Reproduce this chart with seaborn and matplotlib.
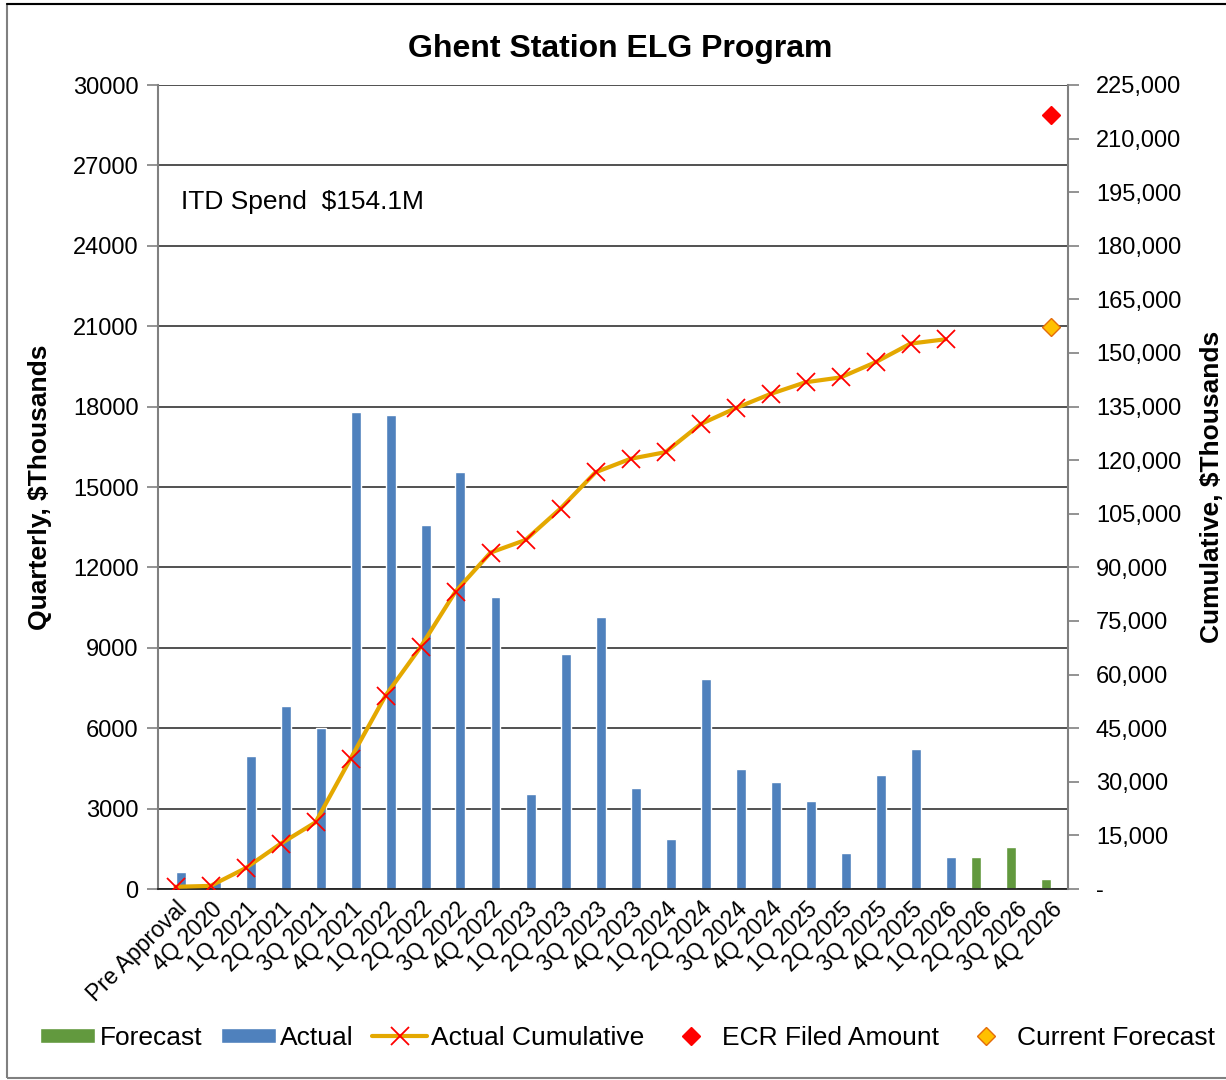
import matplotlib
matplotlib.use("Agg")
import matplotlib.pyplot as plt
from matplotlib.patches import Patch, Rectangle
from matplotlib.lines import Line2D
from matplotlib.ticker import FuncFormatter, FixedLocator
import numpy as np
import pandas as pd
import seaborn as sns

# -------------chart data-------------
quarters = ['Pre Approval', '4Q 2020',
            '1Q 2021', '2Q 2021', '3Q 2021', '4Q 2021',
            '1Q 2022', '2Q 2022', '3Q 2022', '4Q 2022',
            '1Q 2023', '2Q 2023', '3Q 2023', '4Q 2023',
            '1Q 2024', '2Q 2024', '3Q 2024', '4Q 2024',
            '1Q 2025', '2Q 2025', '3Q 2025', '4Q 2025',
            '1Q 2026', '2Q 2026', '3Q 2026', '4Q 2026']

actual_quarters = quarters[:23]
actual_values = [620, 250, 4950, 6820, 6010, 17780, 17680, 13570, 15560, 10900,
                 3540, 8780, 10150, 3780, 1860, 7830, 4470, 3980, 3280, 1350,
                 4250, 5220, 1210]

forecast_quarters = ['2Q 2026', '3Q 2026', '4Q 2026']
forecast_values = [1210, 1580, 360]

cumulative_values = [620, 870, 5820, 12640, 18650, 36430, 54110, 67680, 83240, 94140,
                     97680, 106460, 116610, 120390, 122250, 130080, 134550, 138530,
                     141810, 143160, 147410, 152630, 153840]

ecr_filed_amount = 216500
current_forecast = 157300
target_quarter = '4Q 2026'

left_ticks = list(range(0, 30001, 3000))
right_ticks = list(range(0, 225001, 15000))

# -------------colours-------------
c_actual = '#4F81BD'
c_forecast = '#62993E'
c_line = '#E4A800'

# -------------plot-------------
sns.set_style("white")
plt.rcParams['font.family'] = ['Liberation Sans', 'DejaVu Sans']
plt.rcParams['text.color'] = 'black'
plt.rcParams['axes.labelcolor'] = 'black'

fig = plt.figure(figsize=(12.26, 10.8), dpi=100)
ax = fig.add_axes([158/1226, 1-889/1080, 910/1226, 804/1080])

bars = pd.DataFrame({
    'quarter': actual_quarters + forecast_quarters,
    'value': actual_values + forecast_values,
    'series': ['Actual']*len(actual_quarters) + ['Forecast']*len(forecast_quarters),
})
sns.barplot(data=bars, x='quarter', y='value', hue='series', order=quarters,
            hue_order=['Forecast', 'Actual'],
            palette={'Forecast': c_forecast, 'Actual': c_actual},
            width=4/7, dodge=True, errorbar=None, saturation=1,
            legend=False, ax=ax)

ax.set_xlim(-0.5, len(quarters)-0.5)
ax.set_ylim(0, 30000)
ax.set_yticks(left_ticks)
ax.set_yticklabels([str(t) for t in left_ticks], fontsize=17)
ax.set_axisbelow(True)
ax.grid(axis='y', color='#222222', linewidth=1.1)
ax.grid(axis='x', visible=False)
ax.set_xlabel('')
ax.set_ylabel('Quarterly, $Thousands', fontsize=19, fontweight='bold', va='center')
ax.yaxis.set_label_coords(-0.13, 0.5)

# category boundary ticks
ax.xaxis.set_minor_locator(FixedLocator(np.arange(-0.5, len(quarters), 1)))
ax.tick_params(axis='x', which='major', length=0, pad=6, labelcolor='black')
ax.tick_params(axis='x', which='minor', length=7, width=1.2, color='#808080', direction='out')
ax.tick_params(axis='y', length=8, width=1.2, color='#808080', direction='out', pad=6,
               labelcolor='black')
ax.set_xticks(range(len(quarters)))
ax.set_xticklabels(quarters, rotation=45, ha='right', rotation_mode='anchor', fontsize=16.5)

for s in ['top', 'right']:
    ax.spines[s].set_visible(False)
ax.spines['left'].set_color('#808080')
ax.spines['left'].set_linewidth(1.5)
ax.spines['bottom'].set_color('#222222')
ax.spines['bottom'].set_linewidth(1.3)

# cumulative axis
ax2 = ax.twinx()
cum_pos = [quarters.index(q) for q in actual_quarters]
sns.lineplot(x=cum_pos, y=cumulative_values, ax=ax2, color=c_line, linewidth=3,
             marker='x', markersize=13, markeredgecolor='#FF0000', markeredgewidth=1.3,
             zorder=5)
tpos = quarters.index(target_quarter)
ax2.plot([tpos], [ecr_filed_amount], linestyle='none', marker='D', markersize=9.5,
         color='#FF0000', zorder=6)
ax2.plot([tpos], [current_forecast], linestyle='none', marker='D', markersize=9.5,
         markerfacecolor='#FFC000', markeredgecolor='#E46C0A', markeredgewidth=1, zorder=6)
ax2.set_ylim(0, 225000)
ax2.set_yticks(right_ticks)
ax2.yaxis.set_major_formatter(FuncFormatter(lambda v, p: '-' if v == 0 else f'{int(v):,}'))
ax2.tick_params(axis='y', labelsize=17, length=8, width=1.2, color='#808080', direction='out',
                pad=12, labelcolor='black')
for lbl in ax2.get_yticklabels():
    lbl.set_horizontalalignment('left')
ax2.set_ylabel('Cumulative, $Thousands', fontsize=19, fontweight='bold',
               rotation=90, va='center', ha='center')
ax2.yaxis.set_label_coords(1.158, 0.5)
for s in ['top', 'left', 'bottom']:
    ax2.spines[s].set_visible(False)
ax2.spines['right'].set_color('#808080')
ax2.spines['right'].set_linewidth(1.5)
ax2.set_xlim(-0.5, len(quarters)-0.5)

ax.text(0.025, 0.854, 'ITD Spend  $154.1M', transform=ax.transAxes, fontsize=19,
        ha='left', va='center')

fig.text(0.506, 0.955, 'Ghent Station ELG Program', fontsize=23, fontweight='bold',
         ha='center', va='center')

handles = [
    Patch(facecolor=c_forecast, label='Forecast'),
    Patch(facecolor=c_actual, label='Actual'),
    Line2D([], [], color=c_line, linewidth=3, marker='x', markersize=13,
           markeredgecolor='#FF0000', markeredgewidth=1.3, label='Actual Cumulative'),
    Line2D([], [], linestyle='none', marker='D', markersize=9, color='#FF0000',
           label='ECR Filed Amount'),
    Line2D([], [], linestyle='none', marker='D', markersize=9, markerfacecolor='#FFC000',
           markeredgecolor='#E46C0A', label='Current Forecast'),
]
fig.legend(handles=handles, loc='center', bbox_to_anchor=(0.512, 0.039), ncol=5,
           frameon=False, fontsize=19, handlelength=2.1, handleheight=0.55,
           handletextpad=0.15, columnspacing=0.7, borderaxespad=0)

# outer chart border
fig.patches.append(Rectangle((7/1226, 2/1080), 1.2, 1-6/1080, transform=fig.transFigure,
                             fill=False, edgecolor='#808080', linewidth=1.5))
fig.lines.append(Line2D([7/1226, 1], [1-4/1080, 1-4/1080], transform=fig.transFigure,
                        color='black', linewidth=1.5))

fig.savefig('out.png', dpi=100)
